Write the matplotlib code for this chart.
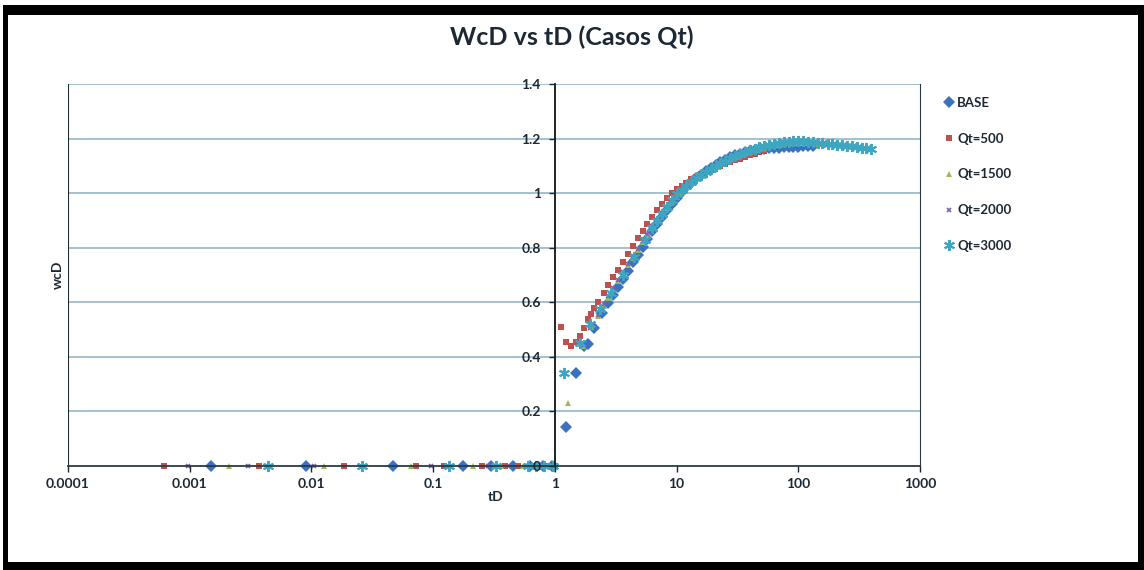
import matplotlib
matplotlib.use("Agg")
import matplotlib.pyplot as plt
from matplotlib.patches import Rectangle
from matplotlib.ticker import FixedLocator, FuncFormatter, NullLocator

plt.rcParams["font.family"] = ["Lato", "DejaVu Sans"]

# muestreo comun de tD para la parte alta de las curvas
td_dense = [2.51, 2.75, 3.02, 3.31, 3.63, 3.98, 4.37, 4.79, 5.25, 5.75,
            6.31, 6.92, 7.59, 8.32, 9.12, 10.0, 11.0, 12.0, 13.2, 14.5,
            15.8, 17.4, 19.1, 20.9, 22.9, 25.1, 27.5, 30.2, 33.1, 36.3,
            39.8, 43.7, 47.9, 52.5, 57.5, 63.1, 69.2, 75.9, 83.2, 91.2,
            100, 110, 120, 132, 145, 158, 174, 191, 209, 229,
            251, 275, 302, 331, 363, 398]

# BASE
base_td0 = [0.0015, 0.009, 0.047, 0.175, 0.30, 0.45, 0.62, 0.80, 0.95]
base_td = [1.23, 1.49, 1.75, 1.87, 2.10, 2.44]
base_wcd = [0.143, 0.34, 0.44, 0.447, 0.507, 0.562]
base_start = 1
base_dense = [0.597, 0.627, 0.657, 0.687, 0.716, 0.746, 0.775, 0.804, 0.833, 0.861,
              0.888, 0.914, 0.939, 0.962, 0.984, 1.004, 1.022, 1.039, 1.054, 1.068,
              1.081, 1.093, 1.104, 1.114, 1.123, 1.131, 1.138, 1.144, 1.149, 1.153,
              1.157, 1.160, 1.162, 1.164, 1.166, 1.167, 1.168, 1.169, 1.170, 1.170,
              1.171, 1.171, 1.171]

# Qt=500
q500_td0 = [0.00061, 0.0037, 0.0185, 0.072, 0.123, 0.25, 0.39, 0.50, 0.68, 0.77, 0.88, 1.0]
q500_td = [1.12, 1.23, 1.35, 1.49, 1.61, 1.73, 1.87, 1.98, 2.10, 2.26]
q500_wcd = [0.51, 0.453, 0.44, 0.453, 0.478, 0.507, 0.54, 0.558, 0.58, 0.60]
q500_start = 0
q500_dense = [0.633, 0.662, 0.691, 0.720, 0.749, 0.778, 0.807, 0.835, 0.862, 0.888,
              0.913, 0.937, 0.960, 0.981, 1.000, 1.014, 1.027, 1.039, 1.050, 1.060,
              1.070, 1.078, 1.086, 1.094, 1.101, 1.108, 1.114, 1.120, 1.126, 1.132,
              1.138, 1.144, 1.149, 1.154]

# Qt=1500
q1500_td0 = [0.0021, 0.0126, 0.066, 0.214, 0.36, 0.55, 0.72, 0.92]
q1500_td = [1.28, 1.70, 2.0, 2.25]
q1500_wcd = [0.23, 0.44, 0.51, 0.55]
q1500_start = 0
q1500_dense = [0.588, 0.617, 0.647, 0.677, 0.706, 0.735, 0.764, 0.792, 0.820, 0.847,
               0.873, 0.898, 0.922, 0.945, 0.967, 0.987, 1.005, 1.022, 1.037, 1.051,
               1.064, 1.076, 1.087, 1.097, 1.107, 1.116, 1.124, 1.132, 1.139, 1.146,
               1.152, 1.158, 1.163, 1.167, 1.171, 1.175, 1.178, 1.180, 1.182, 1.183,
               1.184, 1.184, 1.183, 1.182, 1.181, 1.179]

# Qt=2000
q2000_td0 = [0.00096, 0.003, 0.0105, 0.096, 0.28, 0.42, 0.58, 0.85]
q2000_td = [1.19, 1.65, 1.95, 2.25]
q2000_wcd = [0.34, 0.445, 0.505, 0.553]
q2000_start = 0
q2000_dense = [0.592, 0.622, 0.652, 0.682, 0.711, 0.740, 0.769, 0.797, 0.825, 0.852,
               0.878, 0.903, 0.927, 0.950, 0.972, 0.992, 1.010, 1.026, 1.041, 1.054,
               1.067, 1.079, 1.090, 1.100, 1.110, 1.119, 1.127, 1.135, 1.142, 1.149,
               1.155, 1.161, 1.166, 1.170, 1.174, 1.178, 1.181, 1.183, 1.185, 1.186,
               1.187, 1.187, 1.186, 1.185, 1.183, 1.181, 1.179, 1.177, 1.175, 1.173,
               1.171]

# Qt=3000
q3000_td0 = [0.0044, 0.026, 0.135, 0.33, 0.60, 0.70, 0.82, 0.97]
q3000_td = [1.19, 1.62, 1.95, 2.35, 2.9, 3.6, 4.5, 5.5]
q3000_wcd = [0.34, 0.45, 0.52, 0.575, 0.635, 0.70, 0.765, 0.83]
q3000_start = 10
q3000_dense = [0.872, 0.899, 0.925, 0.950, 0.974, 0.996, 1.013, 1.028, 1.042, 1.055,
               1.067, 1.078, 1.089, 1.099, 1.109, 1.118, 1.127, 1.135, 1.143, 1.150,
               1.157, 1.163, 1.168, 1.173, 1.177, 1.181, 1.184, 1.187, 1.189, 1.190,
               1.190, 1.190, 1.189, 1.187, 1.185, 1.183, 1.181, 1.179, 1.177, 1.175,
               1.173, 1.171, 1.169, 1.167, 1.165, 1.163]

x_ticks = [0.0001, 0.001, 0.01, 0.1, 1, 10, 100, 1000]
x_labels = ["0.0001", "0.001", "0.01", "0.1", "1", "10", "100", "1000"]
y_ticks = [0, 0.2, 0.4, 0.6, 0.8, 1.0, 1.2, 1.4]

series = [
    ("BASE", base_td0, base_td, base_wcd, base_start, base_dense,
     dict(marker="D", color="#3a72c0", ms=6.0, mew=0)),
    ("Qt=500", q500_td0, q500_td, q500_wcd, q500_start, q500_dense,
     dict(marker="s", color="#c0504d", ms=3.8, mew=0)),
    ("Qt=1500", q1500_td0, q1500_td, q1500_wcd, q1500_start, q1500_dense,
     dict(marker="^", color="#9bbb59", ms=4.0, mew=0)),
    ("Qt=2000", q2000_td0, q2000_td, q2000_wcd, q2000_start, q2000_dense,
     dict(marker="x", color="#8064a2", ms=3.5, mew=1.2)),
    ("Qt=3000", q3000_td0, q3000_td, q3000_wcd, q3000_start, q3000_dense,
     dict(marker=(6, 2, 0), color="#3fa6c2", ms=8.0, mew=1.4)),
]

fig = plt.figure(figsize=(11.44, 5.70), dpi=100)
fig.patch.set_facecolor("white")
# marco negro alrededor del grafico
fig.add_artist(Rectangle((3 / 1144, 0), 1141 / 1144, 565 / 570,
                         transform=fig.transFigure, facecolor="black",
                         edgecolor="none", zorder=0))
fig.add_artist(Rectangle((8 / 1144, 8 / 570), 1130 / 1144, 547 / 570,
                         transform=fig.transFigure, facecolor="white",
                         edgecolor="none", zorder=0))

ax = fig.add_axes([68 / 1144, 104 / 570, 852 / 1144, 382 / 570])
ax.set_facecolor("none")
ax.set_axisbelow(False)
ax.set_xscale("log")
ax.set_xlim(1e-4, 1e3)
ax.set_ylim(0, 1.4)

text_col = "#1c2833"
for name, td0, td, wcd, start, dense, style in series:
    xs = td0 + td + td_dense[start:start + len(dense)]
    ys = [0.0] * len(td0) + wcd + dense
    ax.plot(xs, ys, linestyle="none", label=name, clip_on=False,
            markeredgecolor=style["color"], **style)

# rejilla horizontal
for v in y_ticks[1:]:
    ax.axhline(v, color="#9dbccb", lw=1.3, zorder=0.5)

# eje vertical en tD = 1
ax.spines["left"].set_position(("data", 1))
ax.spines["left"].set_color("#111111")
ax.spines["left"].set_linewidth(1.3)
ax.spines["top"].set_visible(False)
ax.spines["right"].set_color("#2b3a42")
ax.spines["bottom"].set_color("#2b3a42")
ax.spines["bottom"].set_linewidth(1.3)
ax.axvline(1e-4, color="#1f2a30", lw=1.5, zorder=0.6)

ax.xaxis.set_major_locator(FixedLocator(x_ticks))
ax.xaxis.set_minor_locator(NullLocator())
ax.set_xticklabels(x_labels)
ax.yaxis.set_major_locator(FixedLocator(y_ticks))
ax.yaxis.set_major_formatter(FuncFormatter(lambda v, p: f"{v:g}"))
ax.tick_params(axis="both", labelsize=10, colors=text_col, length=4, width=1)
ax.tick_params(axis="x", pad=5)
ax.tick_params(axis="y", pad=6)
for lab in ax.get_xticklabels() + ax.get_yticklabels():
    lab.set_fontweight("bold")

ax.set_xlabel("tD", fontsize=10, fontweight="bold", color=text_col)
ax.xaxis.set_label_coords(0.502, -0.065)
ax.set_ylabel("wcD", fontsize=10, fontweight="bold", color=text_col)
ax.yaxis.set_label_coords(-0.005, 0.5)

fig.text(572 / 1144, 1 - 37 / 570, "WcD vs tD (Casos Qt)", ha="center", va="center",
         fontsize=18, fontweight="bold", color=text_col)

leg = ax.legend(loc="upper left", bbox_to_anchor=(944 / 1144, 1 - 97 / 570),
                bbox_transform=fig.transFigure, frameon=False, fontsize=9.5,
                handlelength=0.7, handletextpad=0.3, labelspacing=1.8,
                borderpad=0, borderaxespad=0)
for t in leg.get_texts():
    t.set_color(text_col)
    t.set_fontweight("bold")

fig.savefig("out.png", dpi=100)
